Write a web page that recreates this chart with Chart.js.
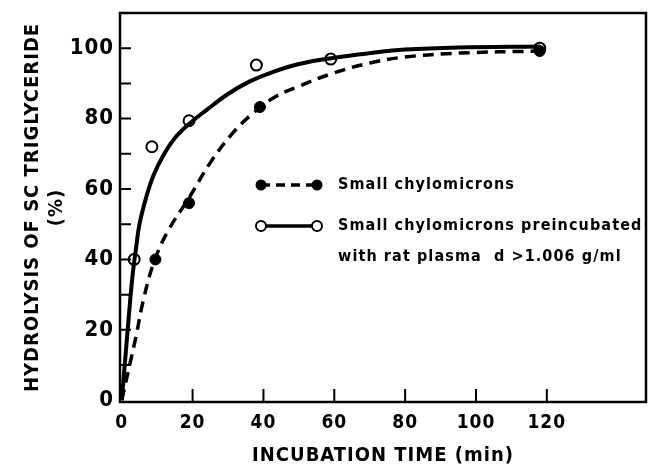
<!DOCTYPE html>
<html>
<head>
<meta charset="utf-8">
<script src="https://cdn.jsdelivr.net/npm/chart.js@4.4.1/dist/chart.umd.min.js"></script>
<style>
  html, body { margin: 0; padding: 0; background: #fff; }
  #wrap { width: 648px; height: 473px; }
</style>
</head>
<body>
<div id="wrap"><canvas id="grafico" width="648" height="473"></canvas></div>
<script>
const tempoAberto = [3.5, 8.5, 19, 38, 59, 118];
const valorAberto = [40, 72, 79.4, 95.2, 96.9, 100];
const tempoCheio = [9.5, 19, 39, 118];
const valorCheio = [40, 56, 83.3, 99.2];

// Curvas ajustadas
const tempoCurvaCheia = [0, 1, 2, 3, 4, 5, 7, 9, 12, 15, 19, 24, 30, 36, 42, 50, 60, 70, 80, 95, 118];
const valorCurvaCheia = [0, 12, 24, 35, 43, 50, 58, 64, 70, 74.5, 78.5, 82.5, 87, 90.5, 93, 95.5, 97.3, 98.6, 99.6, 100.2, 100.5];
const tempoCurvaTracejada = [0, 2, 4, 6, 9, 13, 19, 25, 31, 37, 43, 50, 60, 70, 80, 95, 118];
const valorCurvaTracejada = [0, 9, 18, 28, 39, 48, 57.5, 67.5, 75.5, 81.5, 86, 89.2, 93, 95.8, 97.5, 98.6, 99.2];

const ticksX = [0, 20, 40, 60, 80, 100, 120];
const ticksY = [0, 20, 40, 60, 80, 100];
const ticksYMenores = [10, 30, 50, 70, 90];

const legendaTextos = [
  ["Small chylomicrons"],
  ["Small chylomicrons preincubated", "with rat plasma  d >1.006 g/ml"]
];
const tituloX = "INCUBATION TIME (min)";
const tituloY = ["HYDROLYSIS OF SC TRIGLYCERIDE", "(%)"];

const FONTE = "'DejaVu Sans Condensed', 'DejaVu Sans', sans-serif";

function pares(xs, ys) {
  return xs.map((x, i) => ({ x: x, y: ys[i] }));
}

// Moldura, ticks para dentro e legenda
const moldura = {
  id: "moldura",
  beforeDraw(chart) {
    chart.ctx.letterSpacing = "1px";
  },
  afterDraw(chart) {
    const ctx = chart.ctx;
    const a = chart.chartArea;
    const sx = chart.scales.x;
    const sy = chart.scales.y;
    ctx.save();
    ctx.strokeStyle = "#000";
    ctx.lineWidth = 2.5;
    ctx.strokeRect(a.left, a.top, a.right - a.left, a.bottom - a.top);
    ctx.lineWidth = 2;
    ctx.beginPath();
    ticksX.forEach(v => {
      if (v === 0) return;
      const px = sx.getPixelForValue(v);
      ctx.moveTo(px, a.bottom);
      ctx.lineTo(px, a.bottom - 13);
    });
    ticksY.concat(ticksYMenores).forEach(v => {
      if (v === 0) return;
      const py = sy.getPixelForValue(v);
      ctx.moveTo(a.left, py);
      ctx.lineTo(a.left + 11, py);
    });
    ctx.stroke();

    // legenda
    const x0 = a.left + 141;
    const x1 = a.left + 197;
    const xt = a.left + 218;
    const linhas = [a.top + 172, a.top + 213];
    ctx.font = "bold 16px " + FONTE;
    ctx.letterSpacing = "1.1px";
    ctx.fillStyle = "#000";
    ctx.textBaseline = "middle";
    // linha 1: tracejada, pontos cheios
    ctx.lineWidth = 3.5;
    ctx.setLineDash([9, 6]);
    ctx.beginPath();
    ctx.moveTo(x0, linhas[0]);
    ctx.lineTo(x1, linhas[0]);
    ctx.stroke();
    ctx.setLineDash([]);
    [x0, x1].forEach(px => {
      ctx.beginPath();
      ctx.arc(px, linhas[0], 5.5, 0, Math.PI * 2);
      ctx.fill();
    });
    ctx.fillText(legendaTextos[0][0], xt, linhas[0]);
    // linha 2: cheia, pontos abertos
    ctx.lineWidth = 3.5;
    ctx.beginPath();
    ctx.moveTo(x0, linhas[1]);
    ctx.lineTo(x1, linhas[1]);
    ctx.stroke();
    ctx.lineWidth = 2;
    [x0, x1].forEach(px => {
      ctx.beginPath();
      ctx.arc(px, linhas[1], 5, 0, Math.PI * 2);
      ctx.fillStyle = "#fff";
      ctx.fill();
      ctx.stroke();
    });
    ctx.fillStyle = "#000";
    ctx.fillText(legendaTextos[1][0], xt, linhas[1]);
    ctx.fillText(legendaTextos[1][1], xt, linhas[1] + 31);
    ctx.restore();
  }
};

const ctx = document.getElementById("grafico").getContext("2d");
new Chart(ctx, {
  type: "scatter",
  data: {
    datasets: [
      {
        type: "line",
        data: pares(tempoCurvaCheia, valorCurvaCheia),
        borderColor: "#000",
        borderWidth: 4,
        pointRadius: 0,
        tension: 0.4,
        fill: false
      },
      {
        type: "line",
        data: pares(tempoCurvaTracejada, valorCurvaTracejada),
        borderColor: "#000",
        borderWidth: 3.5,
        borderDash: [11, 7],
        pointRadius: 0,
        tension: 0.4,
        fill: false
      },
      {
        data: pares(tempoCheio, valorCheio),
        pointRadius: 5.5,
        pointBackgroundColor: "#000",
        pointBorderColor: "#000",
        pointBorderWidth: 1
      },
      {
        data: pares(tempoAberto, valorAberto),
        pointRadius: 5.5,
        pointBackgroundColor: "#fff",
        pointBorderColor: "#000",
        pointBorderWidth: 2
      }
    ]
  },
  options: {
    responsive: false,
    animation: false,
    layout: { autoPadding: false, padding: 0 },
    plugins: {
      legend: { display: false },
      tooltip: { enabled: false }
    },
    scales: {
      x: {
        type: "linear",
        min: -0.5,
        max: 148,
        afterBuildTicks: s => { s.ticks = ticksX.map(v => ({ value: v })); },
        afterFit: s => { s.height = 71; s.paddingLeft = 0; s.paddingRight = 2; },
        grid: { display: false, drawTicks: false },
        border: { display: false },
        ticks: {
          color: "#000",
          padding: 10,
          font: { family: FONTE, size: 19, weight: "bold" }
        },
        title: {
          display: true,
          text: tituloX,
          color: "#000",
          padding: { top: 0, bottom: 5 },
          font: { family: FONTE, size: 20, weight: "bold" }
        }
      },
      y: {
        min: -0.5,
        max: 110,
        afterBuildTicks: s => { s.ticks = ticksY.map(v => ({ value: v })); },
        afterFit: s => { s.width = 120; s.paddingTop = 13; s.paddingBottom = 0; },
        grid: { display: false, drawTicks: false },
        border: { display: false },
        ticks: {
          color: "#000",
          padding: 6,
          font: { family: FONTE, size: 22, weight: "bold" }
        },
        title: {
          display: true,
          text: tituloY,
          color: "#000",
          padding: { top: 21, bottom: 0 },
          font: { family: FONTE, size: 20, weight: "bold", lineHeight: 1.2 }
        }
      }
    }
  },
  plugins: [moldura]
});
</script>
</body>
</html>
